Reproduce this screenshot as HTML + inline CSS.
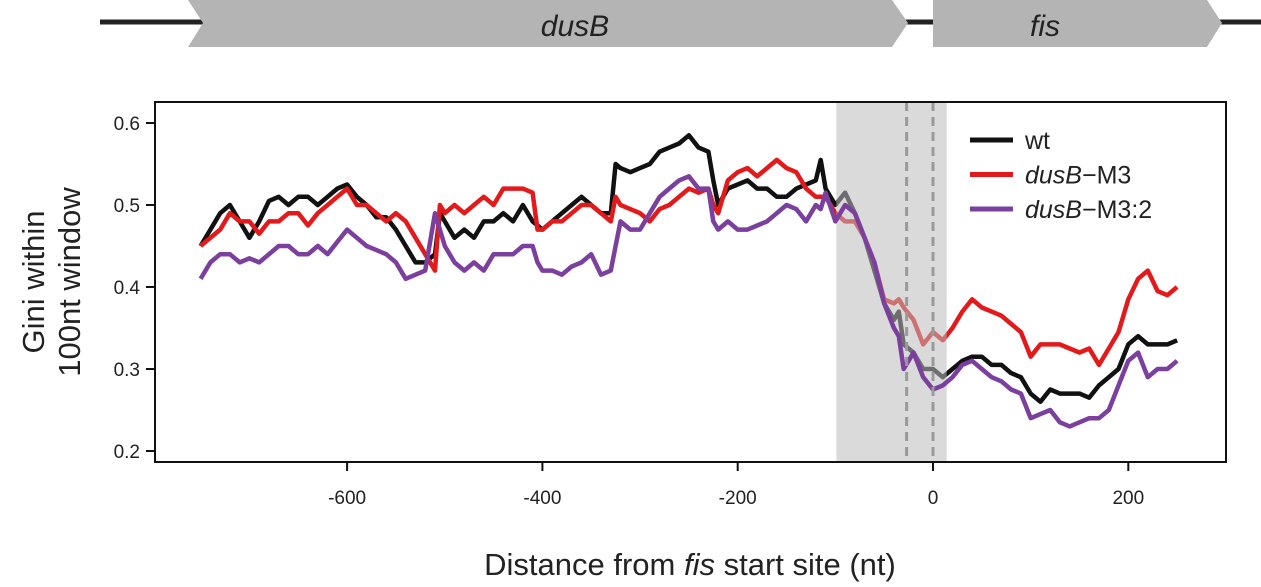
<!DOCTYPE html>
<html><head><meta charset="utf-8"><style>
body{margin:0;background:#fff;}
svg{display:block;font-family:"Liberation Sans",sans-serif;}
</style></head><body>
<svg id="chart" width="1261" height="587" viewBox="0 0 1261 587">
<g>
<line x1="100" y1="22" x2="1261" y2="22" stroke="#222" stroke-width="5"/>
<polygon points="188,0 892,0 908,23 892,47 188,47 203,23" fill="#b4b4b4"/>
<text x="575" y="36" font-size="30" font-style="italic" text-anchor="middle" fill="#222">dusB</text>
<polygon points="933,0 1207,0 1222,23 1207,47 933,47" fill="#b4b4b4"/>
<text x="1045" y="36" font-size="30" font-style="italic" text-anchor="middle" fill="#222">fis</text>
</g>
<g id="plot"></g>
</svg>
<script>
const xs = [-750,-740,-730,-720,-710,-700,-690,-680,-670,-660,-650,-640,-630,-620,-610,-600,-590,-580,-570,-560,-550,-540,-530,-520,-510,-505,-500,-490,-480,-470,-460,-450,-440,-430,-420,-410,-405,-400,-390,-380,-370,-360,-350,-340,-330,-325,-320,-310,-300,-290,-280,-270,-260,-250,-240,-230,-225,-220,-210,-200,-190,-180,-170,-160,-150,-140,-130,-120,-115,-110,-100,-90,-80,-70,-60,-50,-40,-35,-30,-20,-10,0,10,20,30,40,50,60,70,80,90,100,110,120,130,140,150,160,170,180,190,200,210,220,230,240,250];
const wt = [0.45,0.47,0.49,0.50,0.48,0.46,0.48,0.505,0.51,0.50,0.51,0.51,0.50,0.51,0.52,0.525,0.51,0.50,0.485,0.485,0.47,0.45,0.43,0.43,0.44,0.49,0.48,0.46,0.47,0.46,0.48,0.48,0.49,0.48,0.50,0.48,0.475,0.47,0.48,0.49,0.50,0.51,0.50,0.49,0.49,0.55,0.545,0.54,0.545,0.55,0.565,0.57,0.575,0.585,0.57,0.565,0.53,0.50,0.52,0.525,0.53,0.52,0.52,0.51,0.51,0.52,0.525,0.53,0.555,0.52,0.50,0.515,0.49,0.46,0.42,0.38,0.36,0.37,0.33,0.32,0.30,0.30,0.29,0.30,0.31,0.315,0.315,0.305,0.305,0.295,0.29,0.27,0.26,0.275,0.27,0.27,0.27,0.265,0.28,0.29,0.30,0.33,0.34,0.33,0.33,0.33,0.335];
const m3 = [0.45,0.46,0.47,0.49,0.48,0.48,0.465,0.48,0.48,0.49,0.49,0.475,0.49,0.50,0.51,0.52,0.50,0.50,0.49,0.48,0.49,0.48,0.46,0.44,0.42,0.50,0.49,0.50,0.49,0.50,0.51,0.50,0.52,0.52,0.52,0.515,0.47,0.47,0.48,0.48,0.49,0.50,0.50,0.49,0.48,0.51,0.50,0.495,0.49,0.48,0.495,0.50,0.51,0.52,0.515,0.52,0.50,0.49,0.53,0.54,0.545,0.535,0.545,0.555,0.545,0.54,0.52,0.51,0.51,0.51,0.49,0.48,0.48,0.46,0.43,0.385,0.38,0.385,0.375,0.36,0.33,0.345,0.335,0.35,0.37,0.385,0.375,0.37,0.365,0.355,0.345,0.315,0.33,0.33,0.33,0.325,0.32,0.325,0.305,0.325,0.345,0.385,0.41,0.42,0.395,0.39,0.40];
const m32 = [0.41,0.43,0.44,0.44,0.43,0.435,0.43,0.44,0.45,0.45,0.44,0.44,0.45,0.44,0.455,0.47,0.46,0.45,0.445,0.44,0.43,0.41,0.415,0.42,0.49,0.47,0.45,0.43,0.42,0.43,0.42,0.44,0.44,0.44,0.45,0.45,0.43,0.42,0.42,0.415,0.425,0.43,0.44,0.415,0.42,0.45,0.48,0.47,0.47,0.49,0.51,0.52,0.53,0.535,0.52,0.52,0.48,0.47,0.48,0.47,0.47,0.475,0.48,0.49,0.50,0.495,0.48,0.50,0.495,0.515,0.48,0.50,0.49,0.46,0.43,0.38,0.35,0.34,0.30,0.32,0.29,0.275,0.28,0.29,0.305,0.31,0.30,0.29,0.285,0.275,0.27,0.24,0.245,0.25,0.235,0.23,0.235,0.24,0.24,0.25,0.28,0.31,0.32,0.29,0.30,0.30,0.31];
const xTicks = [-600,-400,-200,0,200];
const yTicks = [0.2,0.3,0.4,0.5,0.6];
const shadeRange = [-99, 14];
const dashes = [-27, 0];

const NS = "http://www.w3.org/2000/svg";
const X = v => 933 + v * 0.9765;
const Y = v => 451 - (v - 0.2) * 820;
const g = document.getElementById('plot');
function mk(tag, attrs, parent) {
  const e = document.createElementNS(NS, tag);
  for (const k in attrs) e.setAttribute(k, attrs[k]);
  (parent || g).appendChild(e);
  return e;
}
function series(vals, color, name) {
  const d = xs.map((x, i) => (i ? 'L' : 'M') + X(x).toFixed(1) + ',' + Y(vals[i]).toFixed(1)).join('');
  const p = mk('path', {d: d, fill: 'none', stroke: color, 'stroke-width': 4.5, 'stroke-linejoin': 'round'});
  
  
}
series(wt, '#111', 'wt-line');
series(m3, '#e31a1c', 'dusb-m3-line');
const sh = mk('rect', {x: X(shadeRange[0]), y: 102, width: X(shadeRange[1]) - X(shadeRange[0]), height: 360, fill: '#bbb', 'fill-opacity': 0.55});


series(m32, '#7b3f9e', 'dusb-m3-2-line');
dashes.forEach(v => {
  const l = mk('line', {x1: X(v), x2: X(v), y1: 102, y2: 462, stroke: '#999', 'stroke-width': 3, 'stroke-dasharray': '9,6'});
  
  
});
const box = mk('rect', {x: 155, y: 102, width: 1071, height: 360, fill: 'none', stroke: '#111', 'stroke-width': 2});


xTicks.forEach(v => {
  const t = mk('line', {x1: X(v), x2: X(v), y1: 462, y2: 471, stroke: '#111', 'stroke-width': 2});
  
  
  const l = mk('text', {x: X(v), y: 504, 'font-size': 19, 'text-anchor': 'middle', fill: '#222'});
  l.textContent = v;
  
  
});
yTicks.forEach(v => {
  const t = mk('line', {x1: 146, x2: 155, y1: Y(v), y2: Y(v), stroke: '#111', 'stroke-width': 2});
  
  
  const l = mk('text', {x: 140, y: Y(v) + 7, 'font-size': 19, 'text-anchor': 'end', fill: '#222'});
  l.textContent = v.toFixed(1);
  
  
});
const xt = mk('text', {x: 690, y: 575, 'font-size': 31, 'text-anchor': 'middle', fill: '#222'});
xt.innerHTML = 'Distance from <tspan font-style="italic">fis</tspan> start site (nt)';


const yt = mk('text', {transform: 'translate(44,282) rotate(-90)', 'font-size': 31, 'text-anchor': 'middle', fill: '#222'});
yt.textContent = 'Gini within';


const yt2 = mk('text', {transform: 'translate(80,282) rotate(-90)', 'font-size': 31, 'text-anchor': 'middle', fill: '#222'});
yt2.textContent = '100nt window';


const legend = [['#111', 'wt', ''], ['#e31a1c', 'dusB', '\u2212M3'], ['#7b3f9e', 'dusB', '\u2212M3:2']];
legend.forEach((e, i) => {
  const y = 140 + i * 34.5;
  const l = mk('line', {x1: 970, x2: 1013, y1: y, y2: y, stroke: e[0], 'stroke-width': 5});
  
  
  const t = mk('text', {x: 1025, y: y + 9, 'font-size': 25, fill: '#222'});
  t.innerHTML = i === 0 ? 'wt' : '<tspan font-style="italic">' + e[1] + '</tspan>' + e[2];
  
  
});
</script>
</body></html>
